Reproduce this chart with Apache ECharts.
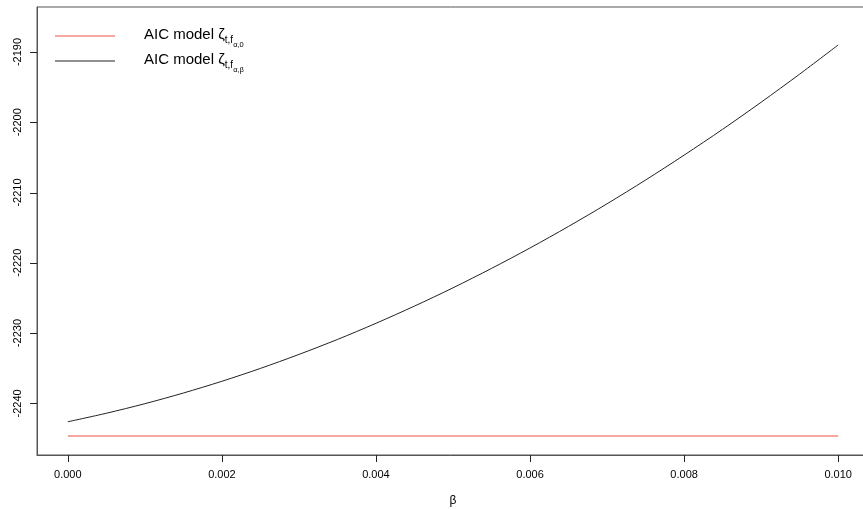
<!DOCTYPE html>
<html>
<head>
<meta charset="utf-8">
<script src="https://cdn.jsdelivr.net/npm/echarts@6/dist/echarts.min.js"></script>
<style>html,body{margin:0;padding:0;background:#fff}#c{width:863px;height:510px}</style>
</head>
<body>
<div id="c"></div>
<script>
// β grid
const beta = [0, 0.0005, 0.001, 0.0015, 0.002, 0.0025, 0.003, 0.0035, 0.004, 0.0045, 0.005,
              0.0055, 0.006, 0.0065, 0.007, 0.0075, 0.008, 0.0085, 0.009, 0.0095, 0.01];
// AIC model ζ_{t,f_{α,β}} (black curve)
const aicAlphaBeta = [-2242.62, -2241.41, -2240.05, -2238.53, -2236.86, -2235.03, -2233.04, -2230.91,
                      -2228.61, -2226.16, -2223.56, -2220.80, -2217.89, -2214.82, -2211.60, -2208.22,
                      -2204.68, -2201.00, -2197.15, -2193.15, -2189.00];
// AIC model ζ_{t,f_{α,0}} (red flat line)
const aicAlphaZero = [-2244.65, -2244.65, -2244.65, -2244.65, -2244.65, -2244.65, -2244.65, -2244.65,
                      -2244.65, -2244.65, -2244.65, -2244.65, -2244.65, -2244.65, -2244.65, -2244.65,
                      -2244.65, -2244.65, -2244.65, -2244.65, -2244.65];
const xTicks = [0, 0.002, 0.004, 0.006, 0.008, 0.010];
const yTicks = [-2240, -2230, -2220, -2210, -2200, -2190];
const names = ['AIC model zero', 'AIC model beta'];

const FONT = 'Liberation Sans, Arial, Helvetica, sans-serif';
const X_MIN = -0.0004, X_MAX = 0.0104, Y_MIN = -2247.35, Y_MAX = -2183.6;
const chart = echarts.init(document.getElementById('c'), null, {renderer: 'canvas'});

function richFor() {
  return {
    a: {fontSize: 15, lineHeight: 18, verticalAlign: 'top', color: '#000', fontFamily: FONT, padding: [0, 0, 0, 24]},
    b: {fontSize: 10, lineHeight: 12, verticalAlign: 'top', color: '#000', fontFamily: FONT, padding: [8, 0, 0, 0]},
    c: {fontSize: 7.5, lineHeight: 9, verticalAlign: 'top', color: '#000', fontFamily: FONT, padding: [14, 0, 0, 0]}
  };
}

chart.setOption({
  animation: false,
  backgroundColor: '#fff',
  textStyle: {fontFamily: FONT},
  grid: {left: 37, top: 7, width: 832, bottom: 55, outerBoundsMode: 'none', containLabel: false,
         show: true, borderColor: '#555', borderWidth: 1, backgroundColor: 'transparent'},
  legend: [
    {
      left: 55, top: 27, itemWidth: 60, itemHeight: 2, padding: 0,
      data: [{name: names[0], icon: 'rect'}],
      formatter: () => '{a|AIC model ζ}{b|t,f}{c|α,0}',
      textStyle: {rich: richFor()}
    },
    {
      left: 55, top: 52, itemWidth: 60, itemHeight: 1, padding: 0,
      data: [{name: names[1], icon: 'rect'}],
      formatter: () => '{a|AIC model ζ}{b|t,f}{c|α,β}',
      textStyle: {rich: richFor()}
    }
  ],
  xAxis: {
    type: 'value', min: X_MIN, max: X_MAX,
    name: 'β', nameLocation: 'middle', nameGap: 40,
    nameTextStyle: {fontSize: 12, color: '#000', fontFamily: FONT},
    axisLine: {show: true, onZero: false, lineStyle: {color: '#555', width: 1}},
    splitLine: {show: false},
    axisTick: {show: true, length: 7, lineStyle: {color: '#222'}, customValues: xTicks},
    axisLabel: {fontSize: 11, color: '#000', margin: 14, fontFamily: FONT, customValues: xTicks,
                formatter: v => v.toFixed(3)}
  },
  yAxis: {
    type: 'value', min: Y_MIN, max: Y_MAX,
    axisLine: {show: true, onZero: false, lineStyle: {color: '#555', width: 1}},
    splitLine: {show: false},
    axisTick: {show: false},
    axisLabel: {fontSize: 11, color: '#000', margin: 14, rotate: 90, fontFamily: FONT, customValues: yTicks,
                formatter: v => String(v)}
  },
  series: [
    {
      name: names[0], type: 'line', symbol: 'none', showSymbol: false,
      data: beta.map((b, i) => [b, aicAlphaZero[i]]),
      lineStyle: {color: '#f5a8a0', width: 2},
      itemStyle: {color: '#f5a8a0'}
    },
    {
      name: names[1], type: 'line', symbol: 'none', showSymbol: false, smooth: 0.3,
      data: beta.map((b, i) => [b, aicAlphaBeta[i]]),
      lineStyle: {color: '#222', width: 1},
      itemStyle: {color: '#222'}
    },
    {
      // y-axis tick marks, positioned through the axis scales
      name: 'yticks', type: 'custom', clip: false, silent: true, z: 10,
      data: yTicks.map(v => [X_MIN, v]),
      renderItem: (params, api) => {
        const p = api.coord([api.value(0), api.value(1)]);
        const y = Math.round(p[1]) + 0.5;
        return {
          type: 'line',
          shape: {x1: p[0] - 7, y1: y, x2: p[0], y2: y},
          style: {stroke: '#222', lineWidth: 1}
        };
      }
    }
  ]
});
</script>
</body>
</html>
